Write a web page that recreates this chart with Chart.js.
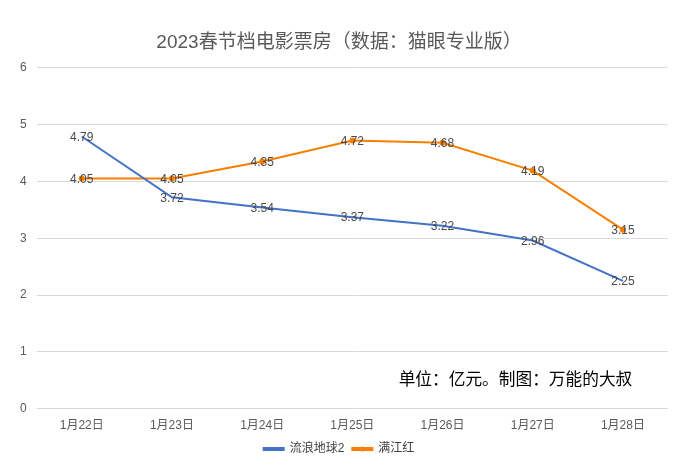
<!DOCTYPE html>
<html lang="zh">
<head>
<meta charset="UTF-8">
<title>2023春节档电影票房</title>
<script src="https://cdn.jsdelivr.net/npm/chart.js"></script>
<style>
    html, body { margin: 0; padding: 0; background: #fff; }
    .wrap { width: 684px; height: 473px; }
</style>
</head>
<body>
<div class="wrap"><canvas id="boxChart"></canvas></div>
<script>
const categories = ['1月22日', '1月23日', '1月24日', '1月25日', '1月26日', '1月27日', '1月28日'];
const wanderingEarth = [4.79, 3.72, 3.54, 3.37, 3.22, 2.96, 2.25];
const fullRiver = [4.05, 4.05, 4.35, 4.72, 4.68, 4.19, 3.15];
const yTicks = [0, 1, 2, 3, 4, 5, 6];

const FONT = '"Liberation Sans", "Noto Sans CJK SC", sans-serif';
const BLUE = '#4472C4';
const ORANGE = '#F77F00';

// values written on each point
const pointLabels = {
    id: 'pointLabels',
    afterDatasetsDraw(chart) {
        const ctx = chart.ctx;
        ctx.save();
        ctx.font = '12px ' + FONT;
        ctx.fillStyle = 'rgba(64,64,64,0.95)';
        ctx.textAlign = 'center';
        ctx.textBaseline = 'middle';
        chart.data.datasets.forEach((ds, i) => {
            chart.getDatasetMeta(i).data.forEach((pt, j) => {
                ctx.fillText(ds.data[j].toFixed(2), pt.x, pt.y + 1);
            });
        });
        ctx.restore();
    }
};

// note text + dot on the orange legend line
const extras = {
    id: 'extras',
    afterDraw(chart) {
        const ctx = chart.ctx;
        const area = chart.chartArea;
        ctx.save();
        ctx.font = '16.7px ' + FONT;
        ctx.fillStyle = '#000';
        ctx.textAlign = 'left';
        ctx.textBaseline = 'middle';
        ctx.fillText('单位：亿元。制图：万能的大叔', area.left + 362, chart.scales.y.getPixelForValue(0.5));

        const box = chart.legend.legendHitBoxes[1];
        if (box) {
            ctx.fillStyle = ORANGE;
            ctx.beginPath();
            ctx.arc(box.left + 10, box.top + box.height / 2, 2.5, 0, Math.PI * 2);
            ctx.fill();
        }
        ctx.restore();
    }
};

new Chart(document.getElementById('boxChart'), {
    type: 'line',
    data: {
        labels: categories,
        datasets: [
            {
                label: '流浪地球2',
                data: wanderingEarth,
                borderColor: BLUE,
                backgroundColor: BLUE,
                borderWidth: 2,
                pointRadius: 0,
                tension: 0
            },
            {
                label: '满江红',
                data: fullRiver,
                borderColor: ORANGE,
                backgroundColor: ORANGE,
                borderWidth: 2,
                pointRadius: 3,
                pointBorderWidth: 0,
                tension: 0
            }
        ]
    },
    options: {
        responsive: true,
        maintainAspectRatio: false,
        animation: false,
        layout: { padding: { left: 10, right: 16, top: 6, bottom: 8 } },
        plugins: {
            title: {
                display: true,
                text: '2023春节档电影票房（数据：猫眼专业版）',
                color: '#595959',
                font: { family: FONT, size: 19, weight: 'normal' },
                padding: { top: 25, bottom: 14 }
            },
            legend: {
                position: 'bottom',
                labels: {
                    color: '#404040',
                    font: { family: FONT, size: 12 },
                    boxWidth: 20,
                    boxHeight: 2,
                    padding: 8
                }
            },
            tooltip: { enabled: false }
        },
        scales: {
            x: {
                offset: true,
                grid: { display: false },
                border: { display: false },
                ticks: { color: '#595959', font: { family: FONT, size: 12 }, padding: 2 }
            },
            y: {
                min: 0,
                max: 6,
                afterBuildTicks(axis) { axis.ticks = yTicks.map(v => ({ value: v })); },
                grid: { color: '#D9D9D9', drawTicks: false },
                border: { display: false },
                ticks: { color: '#595959', font: { family: FONT, size: 12 }, padding: 10 }
            }
        }
    },
    plugins: [pointLabels, extras]
});
</script>
</body>
</html>
